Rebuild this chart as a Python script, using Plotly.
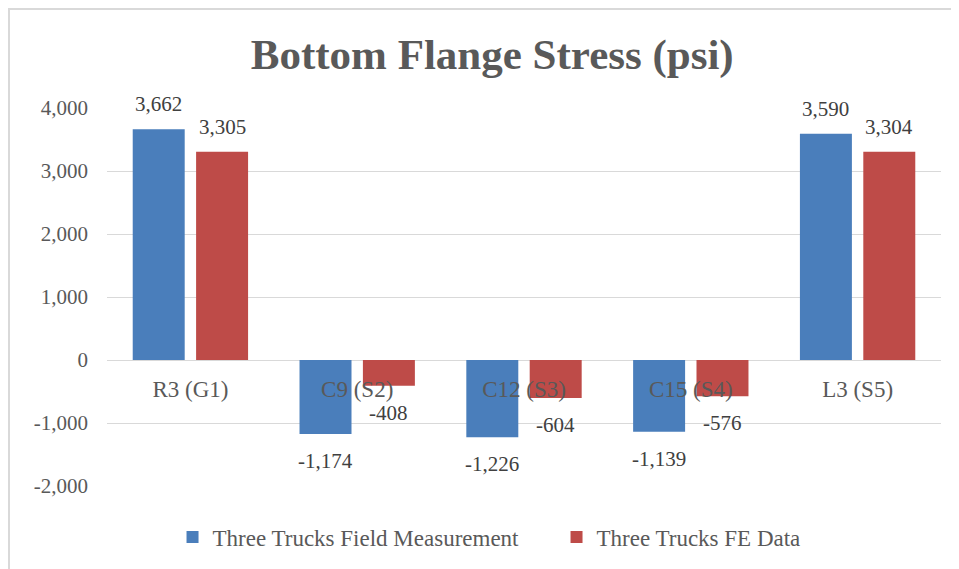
import plotly.graph_objects as go

# Data
categories = ["R3 (G1)", "C9 (S2)", "C12 (S3)", "C15 (S4)", "L3 (S5)"]
field_values = [3662, -1174, -1226, -1139, 3590]
fe_values = [3305, -408, -604, -576, 3304]
series_names = ["Three Trucks Field Measurement", "Three Trucks FE Data"]
y_ticks = [-2000, -1000, 0, 1000, 2000, 3000, 4000]

FONT = "Liberation Serif"
colors = {"field": "#4a7ebb", "fe": "#be4b48"}

# Layout geometry (the page body adds an 8px margin, so the figure is sized around it)
W, H = 943, 561
margin = dict(l=99, r=10, t=100, b=83)
bargap = 0.24
bargroupgap = 0.18
plot_w = W - margin["l"] - margin["r"]
plot_h = H - margin["t"] - margin["b"]
slot = plot_w / len(categories) * (1 - bargap) / 2


def fmt(v):
    return f"{v:,}"


fig = go.Figure()

series = [
    (series_names[0], field_values, colors["field"], -slot / 2),
    (series_names[1], fe_values, colors["fe"], slot / 2),
]

for name, vals, col, dx in series:
    fig.add_trace(
        go.Bar(
            x=categories,
            y=vals,
            name=name,
            marker=dict(color=col, line=dict(width=0)),
            hoverinfo="x+y+name",
        )
    )
    # value labels, placed a bit further from the bar ends than plotly's default
    for cat, v in zip(categories, vals):
        fig.add_annotation(
            x=cat,
            y=v,
            text=fmt(v),
            showarrow=False,
            xshift=dx,
            yshift=25 if v >= 0 else -27,
            yanchor="middle",
            font=dict(family=FONT, size=21, color="#404040"),
        )

# Light frame on the top and left of the chart (the rest is cut off in the reference)
left = -(margin["l"] - 1) / plot_w
top = 1 + (margin["t"] - 1) / plot_h
fig.add_shape(
    type="path",
    xref="paper",
    yref="paper",
    path=f"M {left},-0.3 L {left},{top} L 1.03,{top}",
    line=dict(color="#d9d9d9", width=2),
    layer="below",
)

fig.update_layout(
    width=W,
    height=H,
    title=dict(
        text="<b>Bottom Flange Stress (psi)</b>",
        x=0.5135,
        xanchor="center",
        y=1 - 46 / H,
        yanchor="middle",
        font=dict(family=FONT, size=43, color="#595959"),
    ),
    barmode="group",
    bargap=bargap,
    bargroupgap=bargroupgap,
    plot_bgcolor="white",
    paper_bgcolor="white",
    font=dict(family=FONT, size=21, color="#595959"),
    xaxis=dict(
        anchor="free",
        position=1 / 3,
        showline=False,
        ticks="",
        ticklabelstandoff=13,
        tickfont=dict(family=FONT, size=23, color="#595959"),
        showgrid=False,
    ),
    yaxis=dict(
        range=[-2000, 4000],
        tickvals=y_ticks,
        ticktext=[fmt(v) for v in y_ticks],
        showgrid=True,
        gridcolor="#d9d9d9",
        gridwidth=1,
        zeroline=True,
        zerolinecolor="#d9d9d9",
        zerolinewidth=1,
        showline=False,
        ticks="",
        ticklabelstandoff=18,
        tickfont=dict(family=FONT, size=21, color="#595959"),
    ),
    legend=dict(
        orientation="h",
        x=0.539,
        xanchor="center",
        y=-0.135,
        yanchor="middle",
        font=dict(family=FONT, size=23, color="#595959"),
        itemwidth=30,
        entrywidth=339,
    ),
    margin=margin,
    showlegend=True,
)

fig.write_html("out.html")
